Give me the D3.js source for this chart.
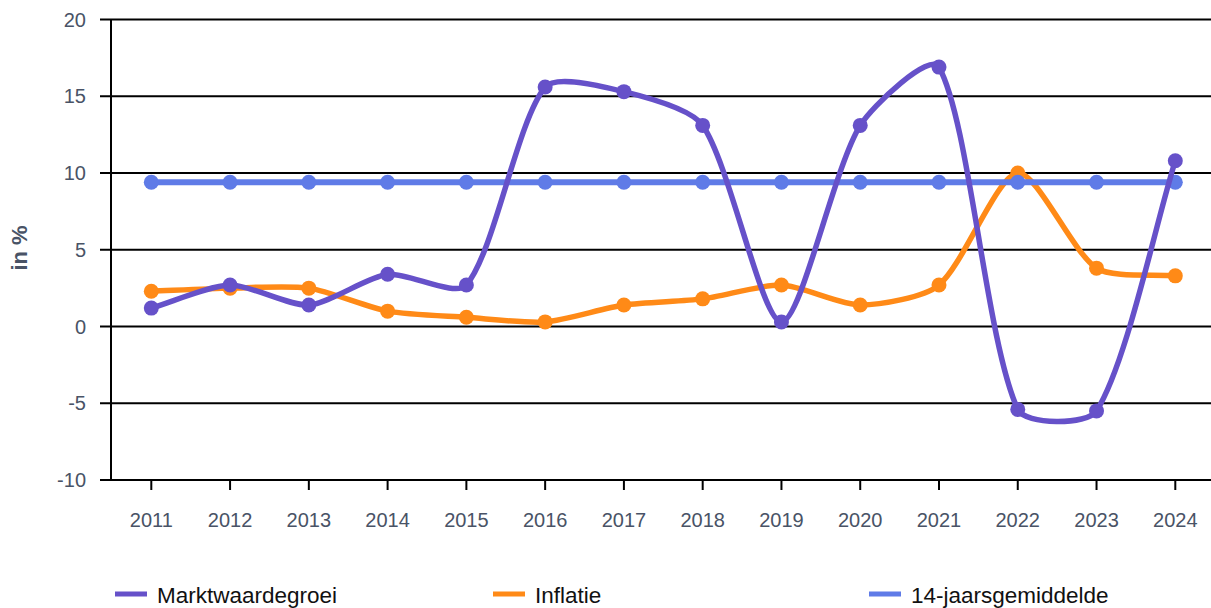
<!DOCTYPE html>
<html>
<head>
<meta charset="utf-8">
<script src="https://cdn.jsdelivr.net/npm/d3@7/dist/d3.min.js"></script>
<style>
  html, body { margin: 0; padding: 0; background: #fff; }
  svg { display: block; }
</style>
</head>
<body>
<svg id="chart" width="1211" height="608"></svg>
<script>
const years = ["2011","2012","2013","2014","2015","2016","2017","2018","2019","2020","2021","2022","2023","2024"];
const marktwaardegroei = [1.2, 2.7, 1.4, 3.4, 2.7, 15.6, 15.3, 13.1, 0.3, 13.1, 16.9, -5.4, -5.5, 10.8];
const inflatie = [2.3, 2.5, 2.5, 1.0, 0.6, 0.3, 1.4, 1.8, 2.7, 1.4, 2.7, 10.0, 3.8, 3.3];
const gemiddelde = [9.4, 9.4, 9.4, 9.4, 9.4, 9.4, 9.4, 9.4, 9.4, 9.4, 9.4, 9.4, 9.4, 9.4];
const yTicks = [-10, -5, 0, 5, 10, 15, 20];
const seriesNames = ["Marktwaardegroei", "Inflatie", "14-jaarsgemiddelde"];
const colors = ["#6651C9", "#FF8A17", "#5F7BE7"];

const svg = d3.select("#chart");
const x = d3.scalePoint().domain(years).range([151.3, 1175.3]);
const y = d3.scaleLinear().domain([-10, 20]).range([480, 19.5]);

// Chart.js-like spline curve
function splineCurve(tension) {
  return function(context) {
    let pts = [];
    return {
      areaStart() {}, areaEnd() {},
      lineStart() { pts = []; },
      point(px, py) { pts.push([px, py]); },
      lineEnd() {
        const n = pts.length;
        if (!n) return;
        const cps = pts.map((p, i) => {
          const prev = pts[i - 1] || p, next = pts[i + 1] || p;
          const d01 = Math.hypot(p[0] - prev[0], p[1] - prev[1]);
          const d12 = Math.hypot(next[0] - p[0], next[1] - p[1]);
          let s01 = d01 / (d01 + d12), s12 = d12 / (d01 + d12);
          if (!isFinite(s01)) s01 = 0; if (!isFinite(s12)) s12 = 0;
          const fa = tension * s01, fb = tension * s12;
          return {
            prev: [p[0] - fa * (next[0] - prev[0]), p[1] - fa * (next[1] - prev[1])],
            next: [p[0] + fb * (next[0] - prev[0]), p[1] + fb * (next[1] - prev[1])]
          };
        });
        context.moveTo(pts[0][0], pts[0][1]);
        for (let i = 1; i < n; i++) {
          context.bezierCurveTo(cps[i-1].next[0], cps[i-1].next[1], cps[i].prev[0], cps[i].prev[1], pts[i][0], pts[i][1]);
        }
      }
    };
  };
}

// grid lines + y tick marks
svg.append("g").selectAll("line").data(yTicks).join("line")
  .attr("x1", 100).attr("x2", 1211)
  .attr("y1", d => y(d)).attr("y2", d => y(d))
  .attr("stroke", "#000").attr("stroke-width", 2);
// left axis line
svg.append("line").attr("x1", 111).attr("x2", 111).attr("y1", y(20)).attr("y2", y(-10))
  .attr("stroke", "#000").attr("stroke-width", 2);
// x tick marks
svg.append("g").selectAll("line").data(years).join("line")
  .attr("x1", d => x(d)).attr("x2", d => x(d))
  .attr("y1", y(-10)).attr("y2", y(-10) + 10)
  .attr("stroke", "#000").attr("stroke-width", 2);

const labelFont = "'Liberation Sans', Arial, sans-serif";
// y labels
svg.append("g").selectAll("text").data(yTicks).join("text")
  .attr("x", 86).attr("y", d => y(d)).attr("dy", "0.36em")
  .attr("text-anchor", "end")
  .attr("font-family", labelFont).attr("font-size", 20).attr("fill", "#495366")
  .text(d => d);
// x labels
svg.append("g").selectAll("text").data(years).join("text")
  .attr("x", d => x(d)).attr("y", 526.5)
  .attr("text-anchor", "middle")
  .attr("font-family", labelFont).attr("font-size", 20).attr("fill", "#495366")
  .text(d => d);
// y title
svg.append("text")
  .attr("transform", "translate(27,248) rotate(-90)")
  .attr("text-anchor", "middle")
  .attr("font-family", labelFont).attr("font-size", 22).attr("font-weight", "bold").attr("fill", "#495366")
  .text("in %");

const line = d3.line().x((d, i) => x(years[i])).y(d => y(d)).curve(splineCurve(0.25));

const drawOrder = [1, 2, 0];
const allSeries = [marktwaardegroei, inflatie, gemiddelde];
const widths = [5.5, 5.5, 6];
drawOrder.forEach(k => {
  const g = svg.append("g");
  g.append("path").datum(allSeries[k]).attr("d", line)
    .attr("fill", "none").attr("stroke", colors[k]).attr("stroke-width", widths[k]);
  g.selectAll("circle").data(allSeries[k]).join("circle")
    .attr("cx", (d, i) => x(years[i])).attr("cy", d => y(d)).attr("r", 7.5)
    .attr("fill", colors[k]);
});

// legend
const legendX = [115, 493, 869];
seriesNames.forEach((name, k) => {
  svg.append("rect").attr("x", legendX[k]).attr("y", 591.5).attr("width", 32).attr("height", 5)
    .attr("fill", colors[k]);
  svg.append("text").attr("x", legendX[k] + 42).attr("y", 602.5)
    .attr("font-family", labelFont).attr("font-size", 22.5).attr("fill", "#111")
    .text(name);
});
</script>
</body>
</html>
